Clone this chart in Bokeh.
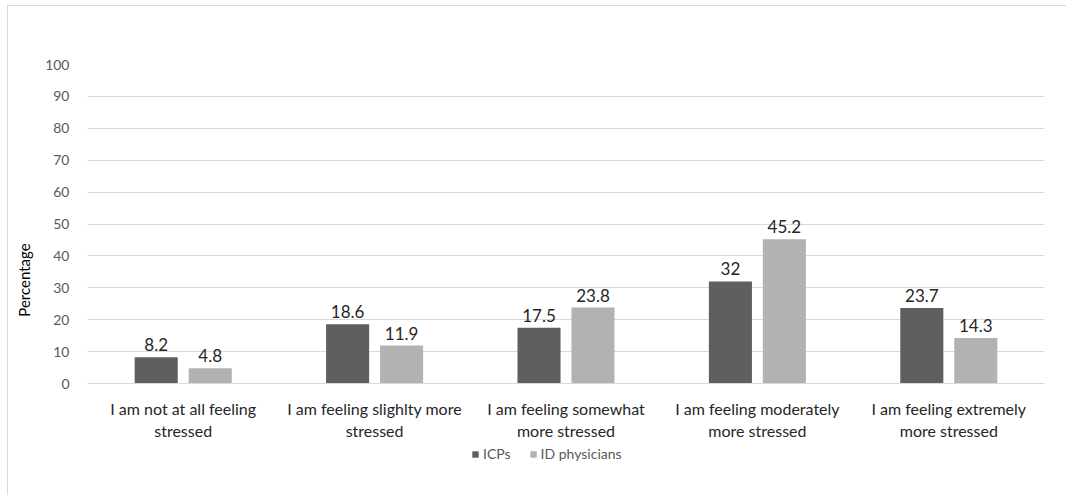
from bokeh.plotting import figure
from bokeh.models import ColumnDataSource, FactorRange, Legend, LegendItem, LabelSet, FixedTicker
from bokeh.transform import dodge
from bokeh.core.properties import value
from bokeh.embed import file_html
from bokeh.resources import INLINE

categories = [
    "I am not at all feeling\nstressed",
    "I am feeling slighlty more\nstressed",
    "I am feeling somewhat\nmore stressed",
    "I am feeling moderately\nmore stressed",
    "I am feeling extremely\nmore stressed",
]
icps = [8.2, 18.6, 17.5, 32, 23.7]
id_physicians = [4.8, 11.9, 23.8, 45.2, 14.3]
icps_labels = ["8.2", "18.6", "17.5", "32", "23.7"]
id_labels = ["4.8", "11.9", "23.8", "45.2", "14.3"]
y_ticks = [0, 10, 20, 30, 40, 50, 60, 70, 80, 90, 100]
series_names = ["ICPs", "ID physicians"]

FONT = "Lato"

src = ColumnDataSource(dict(cat=categories, icps=icps, idp=id_physicians,
                            icps_l=icps_labels, idp_l=id_labels))

p = figure(width=1059, height=493, frame_width=957, frame_height=431,
           x_range=FactorRange(factors=categories, range_padding=0),
           y_range=(-35.1, 100), output_backend="svg", toolbar_location=None,
           min_border_left=79, min_border_right=22, min_border_top=58, min_border_bottom=0)
p.margin = (5, 0, 0, 7)
p.styles = {"border-left": "1px solid #d9d9d9", "border-top": "1px solid #d9d9d9",
            "border-right": "0px none", "border-bottom": "0px none", "outline": "none",
            "box-shadow": "none"}
p.outline_line_color = None
p.background_fill_color = "white"
p.border_fill_color = "white"

r1 = p.vbar(x=dodge("cat", -0.141, range=p.x_range), top="icps", width=0.225, source=src,
            fill_color="#5f5f5f", line_color=None)
r2 = p.vbar(x=dodge("cat", 0.141, range=p.x_range), top="idp", width=0.225, source=src,
            fill_color="#b2b2b2", line_color=None)

for col, lab, off in [("icps", "icps_l", -0.141), ("idp", "idp_l", 0.141)]:
    ls = LabelSet(x=dodge("cat", off, range=p.x_range), y=col, text=lab, source=src,
                  text_align="center", text_baseline="bottom", y_offset=6,
                  text_font=value(FONT), text_font_size="17px", text_color="#262626")
    p.add_layout(ls)

p.yaxis.ticker = FixedTicker(ticks=y_ticks)
p.yaxis.axis_line_color = None
p.yaxis.major_tick_line_color = None
p.yaxis.minor_tick_line_color = None
p.yaxis.major_label_text_font = FONT
p.yaxis.major_label_text_font_size = "14px"
p.yaxis.major_label_text_color = "#595959"
p.yaxis.major_label_standoff = 12
p.yaxis.axis_label = "Percentage"
p.yaxis.axis_label_text_font = FONT
p.yaxis.axis_label_text_font_size = "15px"
p.yaxis.axis_label_text_font_style = "normal"
p.yaxis.axis_label_text_color = "#000000"
p.yaxis.axis_label_standoff = 9

p.xaxis.fixed_location = 0
p.xaxis.axis_line_color = "#d9d9d9"
p.xaxis.major_tick_line_color = None
p.xaxis.minor_tick_line_color = None
p.xaxis.major_label_text_font = FONT
p.xaxis.major_label_text_font_size = "16px"
p.xaxis.major_label_text_color = "#262626"
p.xaxis.major_label_standoff = 9

p.xgrid.grid_line_color = None
p.ygrid.grid_line_color = "#d9d9d9"
p.ygrid.grid_line_width = 1
p.ygrid.bounds = (0, 100)

legend = Legend(items=[LegendItem(label=series_names[0], renderers=[r1]),
                       LegendItem(label=series_names[1], renderers=[r2])],
                orientation="horizontal", location=(384, 33),
                label_text_font=FONT, label_text_font_size="14px", label_text_color="#595959",
                glyph_width=8, glyph_height=8, label_standoff=4, spacing=18,
                border_line_color=None, background_fill_alpha=0, padding=2, margin=0)
p.add_layout(legend)

open("out.html", "w").write(file_html(p, INLINE))
